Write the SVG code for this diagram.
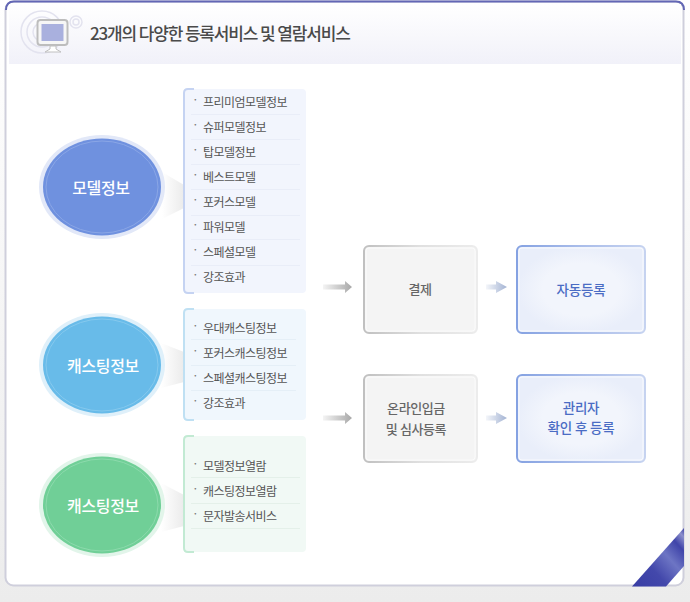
<svg xmlns="http://www.w3.org/2000/svg" width="690" height="602" viewBox="0 0 690 602">
<style>
text{font-family:"Noto Sans CJK KR","Noto Sans",sans-serif}
.title{font-size:17px;fill:#4a4a4a;letter-spacing:-1.15px;font-weight:500}
.item{font-size:12px;fill:#555;letter-spacing:-.55px}
.dot{font-size:12px;fill:#777}
.oval{font-size:16px;fill:#fff;font-weight:500;text-anchor:middle;letter-spacing:-.35px}
.g{font-size:13px;fill:#666;text-anchor:middle;letter-spacing:-.4px;font-weight:500}
.b{font-size:13.500px;fill:#4a6cc4;text-anchor:middle;letter-spacing:-.2px;font-weight:500}
.sep{stroke-width:1;fill:none}
</style>
<defs>
<linearGradient id="bg" x1="0" y1="0" x2="0" y2="1"><stop offset="0" stop-color="#fff"/><stop offset="1" stop-color="#ececec"/></linearGradient>
<linearGradient id="head" x1="0" y1="0" x2="0" y2="1"><stop offset="0" stop-color="#fff"/><stop offset="1" stop-color="#f1f1f9"/></linearGradient>
<linearGradient id="ag" x1="0" y1="0" x2="1" y2="0"><stop offset="0" stop-color="#f4f4f4"/><stop offset="1" stop-color="#a8a8a8"/></linearGradient>
<linearGradient id="ab" x1="0" y1="0" x2="1" y2="0"><stop offset="0" stop-color="#f4f6fa"/><stop offset="1" stop-color="#a3b3d3"/></linearGradient>
<linearGradient id="sh" x1="0" y1="0" x2="1" y2="0"><stop offset="0" stop-color="#fff"/><stop offset="1" stop-color="#ebebeb"/></linearGradient>
<linearGradient id="sg" x1="0" y1="0" x2="1" y2="0"><stop offset="0" stop-color="#c0c0c0"/><stop offset=".5" stop-color="#e0e0e0"/><stop offset="1" stop-color="#ececec"/></linearGradient>
<linearGradient id="sb" x1="0" y1="0" x2="1" y2="0"><stop offset="0" stop-color="#85a2e2"/><stop offset=".5" stop-color="#aabdea"/><stop offset="1" stop-color="#c6d3f0"/></linearGradient>
<radialGradient id="fb"><stop offset=".6" stop-color="#f2f5fc"/><stop offset="1" stop-color="#e9eefa"/></radialGradient>
<linearGradient id="rib" x1="0" y1="1" x2="1" y2="0"><stop offset="0" stop-color="#383da4"/><stop offset=".35" stop-color="#4348ab"/><stop offset=".6" stop-color="#6d75c4"/><stop offset=".8" stop-color="#3f44a9"/><stop offset=".92" stop-color="#8c90cc"/><stop offset="1" stop-color="#3c41a6"/></linearGradient>
<path id="arrow-long" d="M0-2.500H22V-6L29 0 22 6V2.500H0Z"/>
<path id="arrow-short" d="M0-2.500H10V-6L21 0 10 6V2.500H0Z"/>
</defs>
<rect width="690" height="602" fill="url(#bg)"/>
<rect x="5.500" y="1.500" width="678" height="584" rx="8" fill="#fff" stroke="#cfcfdc" stroke-width="2"/>
<path d="M6 10Q6 1.500 14 1.500H676Q684 1.500 684 10" fill="none" stroke="#6367b5" stroke-width="2"/>
<rect x="9" y="4" width="672" height="60" fill="url(#head)"/>

<g id="header">
<g fill="none" stroke="#e3e3ef" stroke-width="1.500"><circle cx="42" cy="32" r="21"/><circle cx="42" cy="32" r="15"/><circle cx="42" cy="32" r="9"/><circle cx="76" cy="22" r="6"/><circle cx="76" cy="22" r="3"/></g>
<rect x="37.500" y="20" width="30" height="25" rx="3" fill="#f6f6f6" stroke="#bdbdbd" stroke-width="2"/>
<rect x="41.500" y="24" width="22" height="17" fill="#a9b0de"/>
<path d="M50 46H56V49L61 52H45L50 49Z" fill="#fff" stroke="#c0c0c0"/>
<text class="title" x="90" y="40">23개의 다양한 등록서비스 및 열람서비스</text>
</g>

<g id="shadows">
<path d="M162 172L184 185V208L162 219Z" fill="url(#sh)"/>
<path d="M161 343L184 352V382L161 388Z" fill="url(#sh)"/>
<path d="M161 483L184 495V526L161 532Z" fill="url(#sh)"/>
</g>

<g id="oval-model">
<ellipse cx="102" cy="187" rx="63" ry="52" fill="#e2e8f8"/>
<ellipse cx="102" cy="187" rx="59" ry="48.500" fill="#6f91df"/>
<ellipse cx="102" cy="187" rx="56" ry="46" fill="none" stroke="#8aa6e6"/>
<text class="oval" x="101" y="194">모델정보</text>
</g>
<g id="oval-casting">
<ellipse cx="102" cy="365" rx="63" ry="52" fill="#dff0fa"/>
<ellipse cx="102" cy="365" rx="59" ry="48.500" fill="#68bbe9"/>
<ellipse cx="102" cy="365" rx="56" ry="46" fill="none" stroke="#85c9ee"/>
<text class="oval" x="103" y="372">캐스팅정보</text>
</g>
<g id="oval-casting2">
<ellipse cx="102" cy="505" rx="63" ry="52" fill="#e2f5ea"/>
<ellipse cx="102" cy="505" rx="59" ry="48.500" fill="#70cf97"/>
<ellipse cx="102" cy="505" rx="56" ry="46" fill="none" stroke="#8cdaac"/>
<text class="oval" x="103" y="512">캐스팅정보</text>
</g>

<g id="list-model">
<rect x="184" y="89" width="122" height="204" rx="4" fill="#f2f5fd"/>
<path d="M194 89H188Q184 89 184 93V289Q184 293 188 293H194" fill="none" stroke="#c5d3f2" stroke-width="2"/>
<g class="sep" stroke="#e9edf8"><path d="M191 114.500H300M191 139.500H300M191 164.500H300M191 189.500H300M191 215.500H300M191 239.500H300M191 265.500H300"/></g>
<text class="dot" x="192" y="104">·</text><text class="item" x="203" y="107">프리미엄모델정보</text>
<text class="dot" x="192" y="129">·</text><text class="item" x="203" y="132">슈퍼모델정보</text>
<text class="dot" x="192" y="154">·</text><text class="item" x="203" y="157">탑모델정보</text>
<text class="dot" x="192" y="179">·</text><text class="item" x="203" y="182">베스트모델</text>
<text class="dot" x="192" y="204">·</text><text class="item" x="203" y="207">포커스모델</text>
<text class="dot" x="192" y="229">·</text><text class="item" x="203" y="232">파워모델</text>
<text class="dot" x="192" y="254">·</text><text class="item" x="203" y="257">스페셜모델</text>
<text class="dot" x="192" y="279">·</text><text class="item" x="203" y="282">강조효과</text>
</g>
<g id="list-casting">
<rect x="184" y="309" width="122" height="111" rx="4" fill="#f0f7fd"/>
<path d="M194 309H188Q184 309 184 313V416Q184 420 188 420H194" fill="none" stroke="#bfe0f3" stroke-width="2"/>
<g class="sep" stroke="#e5eff7"><path d="M191 339.500H296M191 365.500H296M191 390.500H296"/></g>
<text class="dot" x="192" y="330">·</text><text class="item" x="203" y="333">우대캐스팅정보</text>
<text class="dot" x="192" y="355">·</text><text class="item" x="203" y="358">포커스캐스팅정보</text>
<text class="dot" x="192" y="380">·</text><text class="item" x="203" y="383">스페셜캐스팅정보</text>
<text class="dot" x="192" y="405">·</text><text class="item" x="203" y="408">강조효과</text>
</g>
<g id="list-view">
<rect x="184" y="436" width="122" height="116" rx="4" fill="#f1f9f5"/>
<path d="M194 436H188Q184 436 184 440V548Q184 552 188 552H194" fill="none" stroke="#c2ead3" stroke-width="2"/>
<g class="sep" stroke="#e4f0e9"><path d="M191 477.500H300M191 503.500H300M191 528.500H300"/></g>
<text class="dot" x="192" y="468">·</text><text class="item" x="203" y="471">모델정보열람</text>
<text class="dot" x="192" y="493">·</text><text class="item" x="203" y="496">캐스팅정보열람</text>
<text class="dot" x="192" y="518">·</text><text class="item" x="203" y="521">문자발송서비스</text>
</g>

<g id="connectors">
<use href="#arrow-long" x="323" y="287" fill="url(#ag)"/>
<use href="#arrow-long" x="323" y="418" fill="url(#ag)"/>
<use href="#arrow-short" x="486" y="287" fill="url(#ab)"/>
<use href="#arrow-short" x="486" y="418" fill="url(#ab)"/>
</g>

<g id="pay">
<rect x="364" y="246" width="113" height="87" rx="5" fill="#f4f4f4" stroke="url(#sg)" stroke-width="2"/>
<rect x="366" y="248" width="109" height="83" rx="3" fill="none" stroke="#fbfbfb"/>
<text class="g" x="420" y="294">결제</text>
</g>
<g id="auto">
<rect x="517" y="246" width="128" height="87" rx="5" fill="url(#fb)" stroke="url(#sb)" stroke-width="2"/>
<rect x="519" y="248" width="124" height="83" rx="3" fill="none" stroke="#f8fafe"/>
<text class="b" x="581" y="295">자동등록</text>
</g>
<g id="bank">
<rect x="364" y="375" width="113" height="87" rx="5" fill="#f4f4f4" stroke="url(#sg)" stroke-width="2"/>
<rect x="366" y="377" width="109" height="83" rx="3" fill="none" stroke="#fbfbfb"/>
<text class="g" x="416" y="413">온라인입금</text>
<text class="g" x="416" y="434">및 심사등록</text>
</g>
<g id="admin">
<rect x="517" y="375" width="128" height="87" rx="5" fill="url(#fb)" stroke="url(#sb)" stroke-width="2"/>
<rect x="519" y="377" width="124" height="83" rx="3" fill="none" stroke="#f8fafe"/>
<text class="b" x="581" y="413">관리자</text>
<text class="b" x="581" y="433">확인 후 등록</text>
</g>

<g id="ribbon">
<path d="M632 586.500L684 528V566L666 586.500Z" fill="url(#rib)"/>
</g>
</svg>
